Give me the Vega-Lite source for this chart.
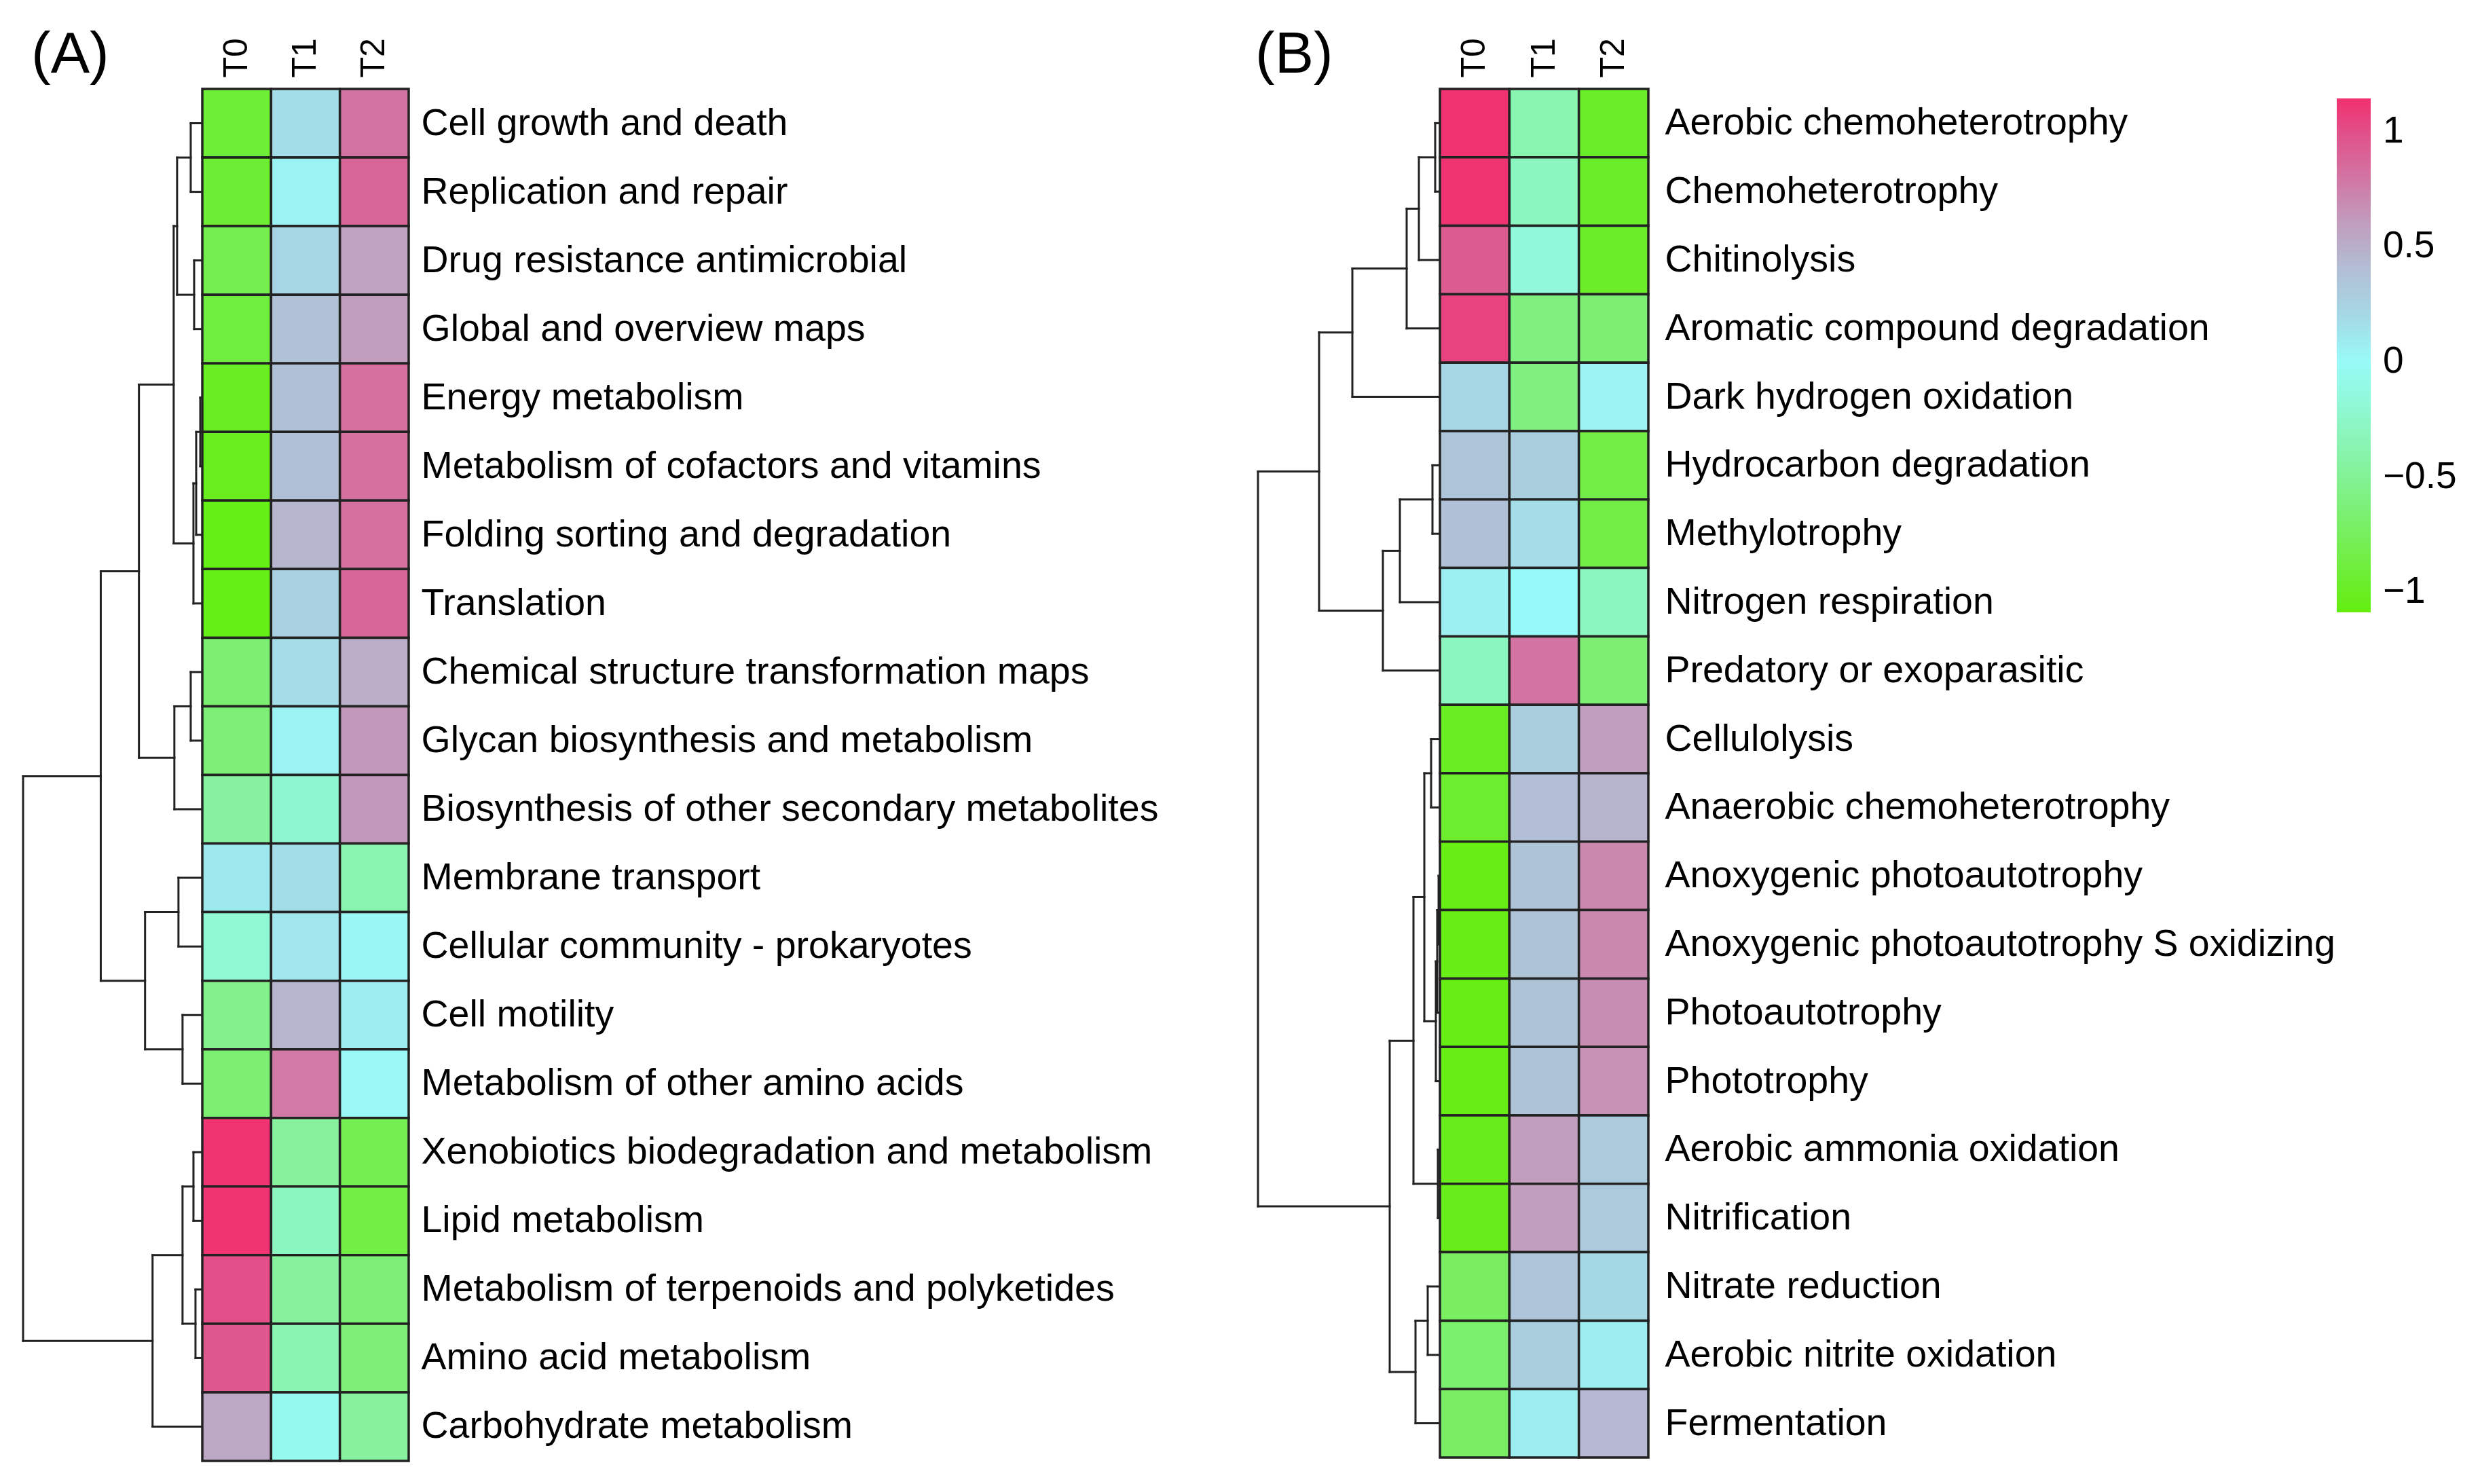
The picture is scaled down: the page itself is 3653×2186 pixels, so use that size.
{
  "$schema": "https://vega.github.io/schema/vega-lite/v6.json",
  "padding": {"left": 31, "top": 38, "right": 5, "bottom": 5},
  "background": "white",
  "config": {
    "font": "Liberation Sans",
    "view": {"stroke": null},
    "axis": {"labelColor": "#000", "labelFont": "Liberation Sans"},
    "legend": {"labelColor": "#000", "labelFont": "Liberation Sans"},
    "title": {"color": "#000", "font": "Liberation Sans"}
  },
  "datasets": {
    "heatA": [
      {"row": "Cell growth and death", "sample": "T0", "value": -0.92},
      {"row": "Cell growth and death", "sample": "T1", "value": 0.17},
      {"row": "Cell growth and death", "sample": "T2", "value": 0.8},
      {"row": "Replication and repair", "sample": "T0", "value": -0.93},
      {"row": "Replication and repair", "sample": "T1", "value": 0.05},
      {"row": "Replication and repair", "sample": "T2", "value": 0.88},
      {"row": "Drug resistance antimicrobial", "sample": "T0", "value": -0.82},
      {"row": "Drug resistance antimicrobial", "sample": "T1", "value": 0.22},
      {"row": "Drug resistance antimicrobial", "sample": "T2", "value": 0.58},
      {"row": "Global and overview maps", "sample": "T0", "value": -0.88},
      {"row": "Global and overview maps", "sample": "T1", "value": 0.37},
      {"row": "Global and overview maps", "sample": "T2", "value": 0.6},
      {"row": "Energy metabolism", "sample": "T0", "value": -1.0},
      {"row": "Energy metabolism", "sample": "T1", "value": 0.38},
      {"row": "Energy metabolism", "sample": "T2", "value": 0.82},
      {"row": "Metabolism of cofactors and vitamins", "sample": "T0", "value": -1.02},
      {"row": "Metabolism of cofactors and vitamins", "sample": "T1", "value": 0.38},
      {"row": "Metabolism of cofactors and vitamins", "sample": "T2", "value": 0.82},
      {"row": "Folding sorting and degradation", "sample": "T0", "value": -1.05},
      {"row": "Folding sorting and degradation", "sample": "T1", "value": 0.47},
      {"row": "Folding sorting and degradation", "sample": "T2", "value": 0.82},
      {"row": "Translation", "sample": "T0", "value": -1.05},
      {"row": "Translation", "sample": "T1", "value": 0.25},
      {"row": "Translation", "sample": "T2", "value": 0.88},
      {"row": "Chemical structure transformation maps", "sample": "T0", "value": -0.66},
      {"row": "Chemical structure transformation maps", "sample": "T1", "value": 0.18},
      {"row": "Chemical structure transformation maps", "sample": "T2", "value": 0.52},
      {"row": "Glycan biosynthesis and metabolism", "sample": "T0", "value": -0.64},
      {"row": "Glycan biosynthesis and metabolism", "sample": "T1", "value": 0.05},
      {"row": "Glycan biosynthesis and metabolism", "sample": "T2", "value": 0.62},
      {"row": "Biosynthesis of other secondary metabolites", "sample": "T0", "value": -0.45},
      {"row": "Biosynthesis of other secondary metabolites", "sample": "T1", "value": -0.22},
      {"row": "Biosynthesis of other secondary metabolites", "sample": "T2", "value": 0.62},
      {"row": "Membrane transport", "sample": "T0", "value": 0.1},
      {"row": "Membrane transport", "sample": "T1", "value": 0.17},
      {"row": "Membrane transport", "sample": "T2", "value": -0.38},
      {"row": "Cellular community - prokaryotes", "sample": "T0", "value": -0.2},
      {"row": "Cellular community - prokaryotes", "sample": "T1", "value": 0.12},
      {"row": "Cellular community - prokaryotes", "sample": "T2", "value": 0.03},
      {"row": "Cell motility", "sample": "T0", "value": -0.55},
      {"row": "Cell motility", "sample": "T1", "value": 0.47},
      {"row": "Cell motility", "sample": "T2", "value": 0.08},
      {"row": "Metabolism of other amino acids", "sample": "T0", "value": -0.66},
      {"row": "Metabolism of other amino acids", "sample": "T1", "value": 0.77},
      {"row": "Metabolism of other amino acids", "sample": "T2", "value": 0.02},
      {"row": "Xenobiotics biodegradation and metabolism", "sample": "T0", "value": 1.12},
      {"row": "Xenobiotics biodegradation and metabolism", "sample": "T1", "value": -0.46},
      {"row": "Xenobiotics biodegradation and metabolism", "sample": "T2", "value": -0.8},
      {"row": "Lipid metabolism", "sample": "T0", "value": 1.12},
      {"row": "Lipid metabolism", "sample": "T1", "value": -0.3},
      {"row": "Lipid metabolism", "sample": "T2", "value": -0.86},
      {"row": "Metabolism of terpenoids and polyketides", "sample": "T0", "value": 1.0},
      {"row": "Metabolism of terpenoids and polyketides", "sample": "T1", "value": -0.46},
      {"row": "Metabolism of terpenoids and polyketides", "sample": "T2", "value": -0.64},
      {"row": "Amino acid metabolism", "sample": "T0", "value": 0.95},
      {"row": "Amino acid metabolism", "sample": "T1", "value": -0.36},
      {"row": "Amino acid metabolism", "sample": "T2", "value": -0.64},
      {"row": "Carbohydrate metabolism", "sample": "T0", "value": 0.55},
      {"row": "Carbohydrate metabolism", "sample": "T1", "value": -0.05},
      {"row": "Carbohydrate metabolism", "sample": "T2", "value": -0.46}
    ],
    "heatB": [
      {"row": "Aerobic chemoheterotrophy", "sample": "T0", "value": 1.13},
      {"row": "Aerobic chemoheterotrophy", "sample": "T1", "value": -0.38},
      {"row": "Aerobic chemoheterotrophy", "sample": "T2", "value": -0.97},
      {"row": "Chemoheterotrophy", "sample": "T0", "value": 1.12},
      {"row": "Chemoheterotrophy", "sample": "T1", "value": -0.3},
      {"row": "Chemoheterotrophy", "sample": "T2", "value": -0.97},
      {"row": "Chitinolysis", "sample": "T0", "value": 0.93},
      {"row": "Chitinolysis", "sample": "T1", "value": -0.15},
      {"row": "Chitinolysis", "sample": "T2", "value": -0.97},
      {"row": "Aromatic compound degradation", "sample": "T0", "value": 1.05},
      {"row": "Aromatic compound degradation", "sample": "T1", "value": -0.6},
      {"row": "Aromatic compound degradation", "sample": "T2", "value": -0.66},
      {"row": "Dark hydrogen oxidation", "sample": "T0", "value": 0.22},
      {"row": "Dark hydrogen oxidation", "sample": "T1", "value": -0.6},
      {"row": "Dark hydrogen oxidation", "sample": "T2", "value": 0.05},
      {"row": "Hydrocarbon degradation", "sample": "T0", "value": 0.35},
      {"row": "Hydrocarbon degradation", "sample": "T1", "value": 0.27},
      {"row": "Hydrocarbon degradation", "sample": "T2", "value": -0.85},
      {"row": "Methylotrophy", "sample": "T0", "value": 0.38},
      {"row": "Methylotrophy", "sample": "T1", "value": 0.18},
      {"row": "Methylotrophy", "sample": "T2", "value": -0.85},
      {"row": "Nitrogen respiration", "sample": "T0", "value": 0.06},
      {"row": "Nitrogen respiration", "sample": "T1", "value": 0.0},
      {"row": "Nitrogen respiration", "sample": "T2", "value": -0.3},
      {"row": "Predatory or exoparasitic", "sample": "T0", "value": -0.3},
      {"row": "Predatory or exoparasitic", "sample": "T1", "value": 0.8},
      {"row": "Predatory or exoparasitic", "sample": "T2", "value": -0.66},
      {"row": "Cellulolysis", "sample": "T0", "value": -1.0},
      {"row": "Cellulolysis", "sample": "T1", "value": 0.27},
      {"row": "Cellulolysis", "sample": "T2", "value": 0.6},
      {"row": "Anaerobic chemoheterotrophy", "sample": "T0", "value": -0.95},
      {"row": "Anaerobic chemoheterotrophy", "sample": "T1", "value": 0.4},
      {"row": "Anaerobic chemoheterotrophy", "sample": "T2", "value": 0.48},
      {"row": "Anoxygenic photoautotrophy", "sample": "T0", "value": -1.06},
      {"row": "Anoxygenic photoautotrophy", "sample": "T1", "value": 0.36},
      {"row": "Anoxygenic photoautotrophy", "sample": "T2", "value": 0.7},
      {"row": "Anoxygenic photoautotrophy S oxidizing", "sample": "T0", "value": -1.06},
      {"row": "Anoxygenic photoautotrophy S oxidizing", "sample": "T1", "value": 0.36},
      {"row": "Anoxygenic photoautotrophy S oxidizing", "sample": "T2", "value": 0.7},
      {"row": "Photoautotrophy", "sample": "T0", "value": -1.06},
      {"row": "Photoautotrophy", "sample": "T1", "value": 0.36},
      {"row": "Photoautotrophy", "sample": "T2", "value": 0.68},
      {"row": "Phototrophy", "sample": "T0", "value": -1.06},
      {"row": "Phototrophy", "sample": "T1", "value": 0.36},
      {"row": "Phototrophy", "sample": "T2", "value": 0.66},
      {"row": "Aerobic ammonia oxidation", "sample": "T0", "value": -1.04},
      {"row": "Aerobic ammonia oxidation", "sample": "T1", "value": 0.6},
      {"row": "Aerobic ammonia oxidation", "sample": "T2", "value": 0.3},
      {"row": "Nitrification", "sample": "T0", "value": -1.04},
      {"row": "Nitrification", "sample": "T1", "value": 0.6},
      {"row": "Nitrification", "sample": "T2", "value": 0.3},
      {"row": "Nitrate reduction", "sample": "T0", "value": -0.74},
      {"row": "Nitrate reduction", "sample": "T1", "value": 0.35},
      {"row": "Nitrate reduction", "sample": "T2", "value": 0.2},
      {"row": "Aerobic nitrite oxidation", "sample": "T0", "value": -0.68},
      {"row": "Aerobic nitrite oxidation", "sample": "T1", "value": 0.27},
      {"row": "Aerobic nitrite oxidation", "sample": "T2", "value": 0.07},
      {"row": "Fermentation", "sample": "T0", "value": -0.72},
      {"row": "Fermentation", "sample": "T1", "value": 0.08},
      {"row": "Fermentation", "sample": "T2", "value": 0.45}
    ],
    "dendA": [
      {"h1": 0, "h2": 17, "p1": 1, "p2": 1}, {"h1": 0, "h2": 17, "p1": 2, "p2": 2}, {"h1": 17, "h2": 17, "p1": 1, "p2": 2},
      {"h1": 0, "h2": 12, "p1": 3, "p2": 3}, {"h1": 0, "h2": 12, "p1": 4, "p2": 4}, {"h1": 12, "h2": 12, "p1": 3, "p2": 4},
      {"h1": 17, "h2": 37, "p1": 1.5, "p2": 1.5}, {"h1": 12, "h2": 37, "p1": 3.5, "p2": 3.5}, {"h1": 37, "h2": 37, "p1": 1.5, "p2": 3.5},
      {"h1": 0, "h2": 3, "p1": 5, "p2": 5}, {"h1": 0, "h2": 3, "p1": 6, "p2": 6}, {"h1": 3, "h2": 3, "p1": 5, "p2": 6},
      {"h1": 3, "h2": 9, "p1": 5.5, "p2": 5.5}, {"h1": 0, "h2": 9, "p1": 7, "p2": 7}, {"h1": 9, "h2": 9, "p1": 5.5, "p2": 7},
      {"h1": 9, "h2": 13, "p1": 6.25, "p2": 6.25}, {"h1": 0, "h2": 13, "p1": 8, "p2": 8}, {"h1": 13, "h2": 13, "p1": 6.25, "p2": 8},
      {"h1": 37, "h2": 42, "p1": 2.5, "p2": 2.5}, {"h1": 13, "h2": 42, "p1": 7.125, "p2": 7.125}, {"h1": 42, "h2": 42, "p1": 2.5, "p2": 7.125},
      {"h1": 0, "h2": 17, "p1": 9, "p2": 9}, {"h1": 0, "h2": 17, "p1": 10, "p2": 10}, {"h1": 17, "h2": 17, "p1": 9, "p2": 10},
      {"h1": 17, "h2": 41, "p1": 9.5, "p2": 9.5}, {"h1": 0, "h2": 41, "p1": 11, "p2": 11}, {"h1": 41, "h2": 41, "p1": 9.5, "p2": 11},
      {"h1": 42, "h2": 93, "p1": 4.81, "p2": 4.81}, {"h1": 41, "h2": 93, "p1": 10.25, "p2": 10.25}, {"h1": 93, "h2": 93, "p1": 4.81, "p2": 10.25},
      {"h1": 0, "h2": 35, "p1": 12, "p2": 12}, {"h1": 0, "h2": 35, "p1": 13, "p2": 13}, {"h1": 35, "h2": 35, "p1": 12, "p2": 13},
      {"h1": 0, "h2": 29, "p1": 14, "p2": 14}, {"h1": 0, "h2": 29, "p1": 15, "p2": 15}, {"h1": 29, "h2": 29, "p1": 14, "p2": 15},
      {"h1": 35, "h2": 84, "p1": 12.5, "p2": 12.5}, {"h1": 29, "h2": 84, "p1": 14.5, "p2": 14.5}, {"h1": 84, "h2": 84, "p1": 12.5, "p2": 14.5},
      {"h1": 93, "h2": 149, "p1": 7.53, "p2": 7.53}, {"h1": 84, "h2": 149, "p1": 13.5, "p2": 13.5}, {"h1": 149, "h2": 149, "p1": 7.53, "p2": 13.5},
      {"h1": 0, "h2": 13, "p1": 16, "p2": 16}, {"h1": 0, "h2": 13, "p1": 17, "p2": 17}, {"h1": 13, "h2": 13, "p1": 16, "p2": 17},
      {"h1": 0, "h2": 10, "p1": 18, "p2": 18}, {"h1": 0, "h2": 10, "p1": 19, "p2": 19}, {"h1": 10, "h2": 10, "p1": 18, "p2": 19},
      {"h1": 13, "h2": 29, "p1": 16.5, "p2": 16.5}, {"h1": 10, "h2": 29, "p1": 18.5, "p2": 18.5}, {"h1": 29, "h2": 29, "p1": 16.5, "p2": 18.5},
      {"h1": 29, "h2": 73, "p1": 17.5, "p2": 17.5}, {"h1": 0, "h2": 73, "p1": 20, "p2": 20}, {"h1": 73, "h2": 73, "p1": 17.5, "p2": 20},
      {"h1": 149, "h2": 263, "p1": 10.52, "p2": 10.52}, {"h1": 73, "h2": 263, "p1": 18.75, "p2": 18.75}, {"h1": 263, "h2": 263, "p1": 10.52, "p2": 18.75}
    ],
    "dendB": [
      {"h1": 0, "h2": 7, "p1": 1, "p2": 1}, {"h1": 0, "h2": 7, "p1": 2, "p2": 2}, {"h1": 7, "h2": 7, "p1": 1, "p2": 2},
      {"h1": 7, "h2": 31, "p1": 1.5, "p2": 1.5}, {"h1": 0, "h2": 31, "p1": 3, "p2": 3}, {"h1": 31, "h2": 31, "p1": 1.5, "p2": 3},
      {"h1": 31, "h2": 49, "p1": 2.25, "p2": 2.25}, {"h1": 0, "h2": 49, "p1": 4, "p2": 4}, {"h1": 49, "h2": 49, "p1": 2.25, "p2": 4},
      {"h1": 49, "h2": 129, "p1": 3.125, "p2": 3.125}, {"h1": 0, "h2": 129, "p1": 5, "p2": 5}, {"h1": 129, "h2": 129, "p1": 3.125, "p2": 5},
      {"h1": 0, "h2": 11, "p1": 6, "p2": 6}, {"h1": 0, "h2": 11, "p1": 7, "p2": 7}, {"h1": 11, "h2": 11, "p1": 6, "p2": 7},
      {"h1": 11, "h2": 59, "p1": 6.5, "p2": 6.5}, {"h1": 0, "h2": 59, "p1": 8, "p2": 8}, {"h1": 59, "h2": 59, "p1": 6.5, "p2": 8},
      {"h1": 59, "h2": 84, "p1": 7.25, "p2": 7.25}, {"h1": 0, "h2": 84, "p1": 9, "p2": 9}, {"h1": 84, "h2": 84, "p1": 7.25, "p2": 9},
      {"h1": 129, "h2": 178, "p1": 4.06, "p2": 4.06}, {"h1": 84, "h2": 178, "p1": 8.125, "p2": 8.125}, {"h1": 178, "h2": 178, "p1": 4.06, "p2": 8.125},
      {"h1": 0, "h2": 13, "p1": 10, "p2": 10}, {"h1": 0, "h2": 13, "p1": 11, "p2": 11}, {"h1": 13, "h2": 13, "p1": 10, "p2": 11},
      {"h1": 0, "h2": 2, "p1": 12, "p2": 12}, {"h1": 0, "h2": 2, "p1": 13, "p2": 13}, {"h1": 2, "h2": 2, "p1": 12, "p2": 13},
      {"h1": 2, "h2": 4, "p1": 12.5, "p2": 12.5}, {"h1": 0, "h2": 4, "p1": 14, "p2": 14}, {"h1": 4, "h2": 4, "p1": 12.5, "p2": 14},
      {"h1": 4, "h2": 6, "p1": 13.25, "p2": 13.25}, {"h1": 0, "h2": 6, "p1": 15, "p2": 15}, {"h1": 6, "h2": 6, "p1": 13.25, "p2": 15},
      {"h1": 13, "h2": 23, "p1": 10.5, "p2": 10.5}, {"h1": 6, "h2": 23, "p1": 14.125, "p2": 14.125}, {"h1": 23, "h2": 23, "p1": 10.5, "p2": 14.125},
      {"h1": 0, "h2": 3, "p1": 16, "p2": 16}, {"h1": 0, "h2": 3, "p1": 17, "p2": 17}, {"h1": 3, "h2": 3, "p1": 16, "p2": 17},
      {"h1": 23, "h2": 39, "p1": 12.31, "p2": 12.31}, {"h1": 3, "h2": 39, "p1": 16.5, "p2": 16.5}, {"h1": 39, "h2": 39, "p1": 12.31, "p2": 16.5},
      {"h1": 0, "h2": 18, "p1": 18, "p2": 18}, {"h1": 0, "h2": 18, "p1": 19, "p2": 19}, {"h1": 18, "h2": 18, "p1": 18, "p2": 19},
      {"h1": 18, "h2": 36, "p1": 18.5, "p2": 18.5}, {"h1": 0, "h2": 36, "p1": 20, "p2": 20}, {"h1": 36, "h2": 36, "p1": 18.5, "p2": 20},
      {"h1": 39, "h2": 74, "p1": 14.41, "p2": 14.41}, {"h1": 36, "h2": 74, "p1": 19.25, "p2": 19.25}, {"h1": 74, "h2": 74, "p1": 14.41, "p2": 19.25},
      {"h1": 178, "h2": 268, "p1": 6.09, "p2": 6.09}, {"h1": 74, "h2": 268, "p1": 16.83, "p2": 16.83}, {"h1": 268, "h2": 268, "p1": 6.09, "p2": 16.83}
    ]
  },
  "hconcat": [
    {
      "spacing": 0,
      "bounds": "flush",
      "hconcat": [
        {
          "width": 264,
          "height": 2021,
          "title": {"text": "(A)", "anchor": "start", "frame": "group", "fontSize": 86, "fontWeight": "normal", "baseline": "alphabetic", "offset": -62, "dx": 12},
          "data": {"name": "dendA"},
          "mark": {"type": "rule", "stroke": "#222222", "strokeWidth": 3, "strokeCap": "square"},
          "encoding": {
            "x": {"field": "h1", "type": "quantitative", "scale": {"domain": [0, 263], "reverse": true, "nice": false, "zero": false}, "axis": null},
            "x2": {"field": "h2"},
            "y": {"field": "p1", "type": "quantitative", "scale": {"domain": [0.5, 20.5], "reverse": true, "nice": false, "zero": false}, "axis": null},
            "y2": {"field": "p2"}
          }
        },
        {
          "width": 304,
          "height": 2021,
          "data": {"name": "heatA"},
          "mark": {"type": "rect", "stroke": "#222222", "strokeWidth": 3.5},
          "encoding": {
            "x": {"field": "sample", "type": "nominal", "sort": ["T0", "T1", "T2"], "scale": {"paddingInner": 0, "paddingOuter": 0},
                  "axis": {"orient": "top", "title": null, "labelAngle": -90, "labelAlign": "left", "labelBaseline": "middle", "labelFontSize": 50, "labelPadding": 17, "ticks": false, "domain": false}},
            "y": {"field": "row", "type": "nominal", "sort": null, "scale": {"paddingInner": 0, "paddingOuter": 0},
                  "axis": {"orient": "right", "title": null, "labelFontSize": 55.5, "labelPadding": 18, "ticks": false, "domain": false, "labelLimit": 1200}},
            "color": {"field": "value", "type": "quantitative",
                      "scale": {"domain": [-1.09, -0.75, -0.5, -0.25, 0, 0.25, 0.5, 0.75, 1.0, 1.14],
                                "range": ["#64EE0E", "#78EE5E", "#84F196", "#8EF7CA", "#98FAF8", "#A8D0E0", "#B8B2CC", "#CE7EA8", "#E24E88", "#F2306E"],
                                "interpolate": "rgb"},
                      "legend": {"orient": "none", "legendX": 3408, "legendY": 14, "direction": "vertical", "title": null, "gradientLength": 757, "gradientThickness": 50, "gradientStrokeWidth": 0, "labelFontSize": 55, "labelOffset": 18, "values": [-1, -0.5, 0, 0.5, 1], "format": ".1~f", "labelOverlap": false, "padding": 0}}
          }
        }
      ]
    },
    {
      "spacing": 0,
      "bounds": "flush",
      "hconcat": [
        {
          "width": 268,
          "height": 2016,
          "title": {"text": "(B)", "anchor": "start", "frame": "group", "fontSize": 86, "fontWeight": "normal", "baseline": "alphabetic", "offset": -62, "dx": -4},
          "data": {"name": "dendB"},
          "mark": {"type": "rule", "stroke": "#222222", "strokeWidth": 3, "strokeCap": "square"},
          "encoding": {
            "x": {"field": "h1", "type": "quantitative", "scale": {"domain": [0, 268], "reverse": true, "nice": false, "zero": false}, "axis": null},
            "x2": {"field": "h2"},
            "y": {"field": "p1", "type": "quantitative", "scale": {"domain": [0.5, 20.5], "reverse": true, "nice": false, "zero": false}, "axis": null},
            "y2": {"field": "p2"}
          }
        },
        {
          "width": 307,
          "height": 2016,
          "data": {"name": "heatB"},
          "mark": {"type": "rect", "stroke": "#222222", "strokeWidth": 3.5},
          "encoding": {
            "x": {"field": "sample", "type": "nominal", "sort": ["T0", "T1", "T2"], "scale": {"paddingInner": 0, "paddingOuter": 0},
                  "axis": {"orient": "top", "title": null, "labelAngle": -90, "labelAlign": "left", "labelBaseline": "middle", "labelFontSize": 50, "labelPadding": 17, "ticks": false, "domain": false}},
            "y": {"field": "row", "type": "nominal", "sort": null, "scale": {"paddingInner": 0, "paddingOuter": 0},
                  "axis": {"orient": "right", "title": null, "labelFontSize": 55.5, "labelPadding": 24, "ticks": false, "domain": false, "labelLimit": 1200}},
            "color": {"field": "value", "type": "quantitative",
                      "scale": {"domain": [-1.09, -0.75, -0.5, -0.25, 0, 0.25, 0.5, 0.75, 1.0, 1.14],
                                "range": ["#64EE0E", "#78EE5E", "#84F196", "#8EF7CA", "#98FAF8", "#A8D0E0", "#B8B2CC", "#CE7EA8", "#E24E88", "#F2306E"],
                                "interpolate": "rgb"},
                      "legend": {"orient": "none", "legendX": 3408, "legendY": 14, "direction": "vertical", "title": null, "gradientLength": 757, "gradientThickness": 50, "gradientStrokeWidth": 0, "labelFontSize": 55, "labelOffset": 18, "values": [-1, -0.5, 0, 0.5, 1], "format": ".1~f", "labelOverlap": false, "padding": 0}}
          }
        }
      ]
    }
  ],
  "spacing": 143,
  "bounds": "full"
}
